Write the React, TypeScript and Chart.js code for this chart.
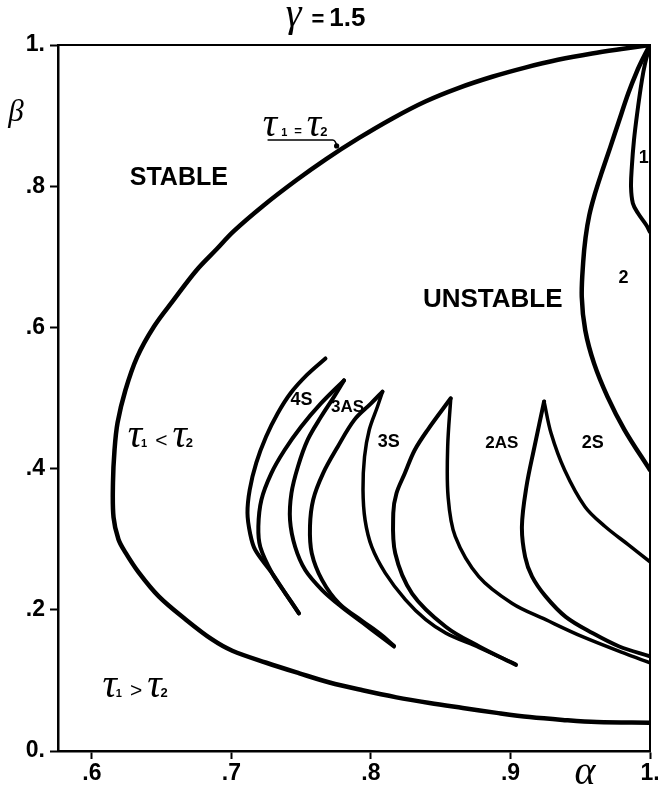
import React, { useEffect, useRef } from 'react';
import { Chart, registerables } from 'chart.js';

Chart.register(...registerables);

// ---- axis ticks ----
const xTicks = [0.6, 0.7, 0.8, 0.9, 1.0];
const xTickLabels = ['.6', '.7', '.8', '.9', '1.'];
const yTicks = [0, 0.2, 0.4, 0.6, 0.8, 1.0];
const yTickLabels = ['0.', '.2', '.4', '.6', '.8', '1.'];
const xMin = 0.5757;
const xMax = 1.0;

// ---- curves (alpha, beta) ----
const boundary = [
  [1.0, 1.0], [0.9821, 0.995], [0.9585, 0.988], [0.934, 0.979], [0.9105, 0.968], [0.8869, 0.955],
  [0.8626, 0.939], [0.839, 0.92], [0.8154, 0.896], [0.7912, 0.868], [0.7676, 0.838], [0.7462, 0.808],
  [0.7226, 0.772], [0.7015, 0.736], [0.6895, 0.711], [0.675, 0.681], [0.6586, 0.639], [0.6444, 0.601],
  [0.6324, 0.558], [0.624, 0.511], [0.6184, 0.465], [0.6162, 0.426], [0.6151, 0.38], [0.6155, 0.331],
  [0.619, 0.3], [0.6241, 0.281], [0.6335, 0.253], [0.6479, 0.219], [0.6674, 0.186], [0.6861, 0.158],
  [0.7006, 0.142], [0.725, 0.125], [0.7487, 0.11], [0.7703, 0.097], [0.794, 0.086], [0.8183, 0.076],
  [0.842, 0.068], [0.8658, 0.061], [0.8901, 0.054], [0.9138, 0.048], [0.9374, 0.044], [0.9619, 0.041],
  [1.0, 0.04],
];
const loop1 = [
  [1.0, 1.0], [0.9965, 0.974], [0.9942, 0.95], [0.9908, 0.903], [0.9885, 0.865], [0.987, 0.828],
  [0.9864, 0.799], [0.9877, 0.776], [0.9913, 0.762], [0.9973, 0.745], [1.0, 0.735],
];
const curve2 = [
  [1.0, 1.0], [0.9955, 0.983], [0.9905, 0.962], [0.9845, 0.932], [0.9777, 0.892], [0.9715, 0.855],
  [0.9655, 0.82], [0.9605, 0.789], [0.9565, 0.759], [0.9538, 0.727], [0.9521, 0.692], [0.9511, 0.643],
  [0.9536, 0.596], [0.9599, 0.549], [0.9695, 0.502], [0.9817, 0.455], [1.0, 0.398],
];
const s2Right = [
  [0.9241, 0.495], [0.9291, 0.45], [0.9388, 0.398], [0.9534, 0.346], [0.9678, 0.318], [0.9846, 0.292],
  [1.0, 0.268],
];
const s2Left = [
  [0.9241, 0.495], [0.9172, 0.431], [0.9114, 0.374], [0.9082, 0.318], [0.9105, 0.275], [0.9155, 0.247],
  [0.9252, 0.219], [0.9396, 0.19], [0.9588, 0.167], [0.978, 0.148], [1.0, 0.134],
];
const as2Right = [
  [0.8572, 0.4996], [0.855, 0.431], [0.8553, 0.36], [0.8604, 0.304], [0.8773, 0.247], [0.9013, 0.209],
  [0.9253, 0.186], [0.9516, 0.162], [0.9875, 0.134], [1.0, 0.125],
];
const as2Left = [
  [0.8572, 0.4996], [0.8407, 0.455], [0.8313, 0.426], [0.8242, 0.393], [0.8183, 0.365], [0.816, 0.337],
  [0.8174, 0.28], [0.8295, 0.223], [0.8536, 0.176], [0.8776, 0.148], [0.904, 0.122],
];
const s3Right = [
  [0.8083, 0.509], [0.8047, 0.488], [0.7988, 0.455], [0.7954, 0.417], [0.7943, 0.37], [0.7958, 0.327],
  [0.8006, 0.289], [0.8103, 0.252], [0.8248, 0.214], [0.8393, 0.186], [0.8537, 0.167], [0.8776, 0.1465],
  [0.9035, 0.123],
];
const s3Left = [
  [0.8083, 0.509], [0.7999, 0.492], [0.7881, 0.469], [0.7762, 0.431], [0.7656, 0.393], [0.7586, 0.356],
  [0.7563, 0.318], [0.7576, 0.28], [0.765, 0.242], [0.7771, 0.209], [0.7938, 0.184], [0.8065, 0.166],
  [0.8165, 0.149],
];
const as3Right = [
  [0.7807, 0.525], [0.7736, 0.502], [0.7641, 0.473], [0.7547, 0.441], [0.7477, 0.403], [0.743, 0.365],
  [0.742, 0.327], [0.7457, 0.289], [0.753, 0.256], [0.765, 0.228], [0.779, 0.204], [0.7945, 0.181],
  [0.8065, 0.163], [0.8165, 0.148],
];
const as3Left = [
  [0.7807, 0.525], [0.764, 0.492], [0.7498, 0.459], [0.738, 0.426], [0.7285, 0.393], [0.7215, 0.356],
  [0.7193, 0.318], [0.7207, 0.289], [0.7291, 0.252], [0.7388, 0.223], [0.7484, 0.195],
];
const s4 = [
  [0.7674, 0.556], [0.7543, 0.533], [0.7425, 0.507], [0.7331, 0.478], [0.7248, 0.445], [0.7178, 0.408],
  [0.7131, 0.37], [0.7115, 0.337], [0.7134, 0.308], [0.717, 0.285], [0.7291, 0.252], [0.7388, 0.223],
  [0.7484, 0.195],
];

// ---- text labels (data coordinates: centre x, baseline y) ----
const regionLabels = [
  { text: 'STABLE', x: 0.6623, y: 0.8017 },
  { text: 'UNSTABLE', x: 0.8873, y: 0.6289 },
];
const branchLabels = [
  { text: '1', x: 0.9956, y: 0.8329 },
  { text: '2', x: 0.9811, y: 0.6629 },
  { text: '2S', x: 0.959, y: 0.4292 },
  { text: '2AS', x: 0.8938, y: 0.4292 },
  { text: '3S', x: 0.8128, y: 0.4306 },
  { text: '3AS', x: 0.7832, y: 0.4802 },
  { text: '4S', x: 0.7502, y: 0.4901 },
];
// tau relations (left x, baseline y)
const tauLabels = [
  { rel: '=', x: 0.7225, y: 0.871 },
  { rel: '<', x: 0.6257, y: 0.4306 },
  { rel: '>', x: 0.6076, y: 0.0765 },
];
const leaderStart = [0.7725, 0.8654];
const leaderEnd = [0.7754, 0.857];
const underlineFrom = 0.7259;

const SANS = '"Liberation Sans", Arial, sans-serif';
const SERIF = '"Liberation Serif", "DejaVu Serif", serif';

type Run = { t: string; font: string; dy?: number; gap?: number };

function runsWidth(ctx: CanvasRenderingContext2D, runs: Run[]) {
  let w = 0;
  for (const r of runs) {
    ctx.font = r.font;
    w += ctx.measureText(r.t).width + (r.gap || 0);
  }
  return w;
}

function drawRuns(ctx: CanvasRenderingContext2D, runs: Run[], left: number, base: number) {
  let x = left;
  ctx.textAlign = 'left';
  ctx.textBaseline = 'alphabetic';
  for (const r of runs) {
    ctx.font = r.font;
    ctx.fillText(r.t, x, base + (r.dy || 0));
    x += ctx.measureText(r.t).width + (r.gap || 0);
  }
  return x;
}

const TAU_FONT = `italic 40px ${SERIF}`;

function tauRuns(rel: string): Run[] {
  if (rel === '=') {
    return [
      { t: 'τ', font: TAU_FONT, gap: 4 },
      { t: '1', font: `bold 11px ${SANS}`, gap: 7 },
      { t: '=', font: `bold 13px ${SANS}`, dy: -1, gap: 5 },
      { t: 'τ', font: TAU_FONT, gap: -1 },
      { t: '2', font: `bold 13px ${SANS}` },
    ];
  }
  return [
    { t: 'τ', font: TAU_FONT, gap: -1 },
    { t: '1', font: `bold 11px ${SANS}`, gap: 8 },
    { t: rel, font: `21px ${SANS}`, gap: 5 },
    { t: 'τ', font: TAU_FONT, gap: -1 },
    { t: '2', font: `bold 13px ${SANS}` },
  ];
}

const textPlugin = {
  id: 'phaseTexts',
  afterDatasetsDraw(chart: any) {
    const { ctx, chartArea, scales } = chart;
    const xs = scales.x;
    const ys = scales.y;
    const px = (v: number) => xs.getPixelForValue(v);
    const py = (v: number) => ys.getPixelForValue(v);
    ctx.save();
    ctx.fillStyle = '#000';
    ctx.strokeStyle = '#000';

    ctx.textAlign = 'center';
    ctx.textBaseline = 'alphabetic';
    for (const l of regionLabels) {
      ctx.font = `bold ${l.text === 'STABLE' ? 25 : 26}px ${SANS}`;
      ctx.fillText(l.text, px(l.x), py(l.y));
    }
    for (const l of branchLabels) {
      ctx.font = `bold ${l.text.length > 2 ? 17 : 18}px ${SANS}`;
      ctx.fillText(l.text, px(l.x), py(l.y));
    }

    for (const t of tauLabels) {
      drawRuns(ctx, tauRuns(t.rel), px(t.x), py(t.y));
    }

    // underline + leader of tau1 = tau2
    const ux0 = px(underlineFrom);
    const ux1 = px(leaderStart[0]);
    const uy = py(leaderStart[1]);
    ctx.lineWidth = 1.6;
    ctx.beginPath();
    ctx.moveTo(ux0, uy);
    ctx.lineTo(ux1, uy);
    ctx.quadraticCurveTo(ux1 + 3, uy, px(leaderEnd[0]), py(leaderEnd[1]));
    ctx.stroke();
    ctx.beginPath();
    ctx.arc(px(leaderEnd[0]), py(leaderEnd[1]), 2.6, 0, Math.PI * 2);
    ctx.fill();

    // axis symbols and title
    ctx.textAlign = 'center';
    ctx.font = `italic 31px ${SERIF}`;
    ctx.fillText('β', chartArea.left - 42, py(0.892));
    ctx.font = `italic 40px ${SERIF}`;
    ctx.fillText('α', px(0.9534), chartArea.bottom + 33);

    const title: Run[] = [
      { t: 'γ', font: `italic 40px ${SERIF}`, gap: 10 },
      { t: '=', font: `bold 22px ${SANS}`, gap: 5 },
      { t: '1.5', font: `bold 26px ${SANS}` },
    ];
    const tw = runsWidth(ctx, title);
    drawRuns(ctx, title, px(0.7675) - tw / 2, chartArea.top - 19);
    ctx.restore();
  },
};

const pts = (a: number[][]) => a.map(([x, y]) => ({ x, y }));

export default function App() {
  const ref = useRef<HTMLCanvasElement>(null);
  useEffect(() => {
    const canvas = ref.current;
    if (!canvas) return;
    const line = (d: number[][], w: number) => ({
      data: pts(d),
      showLine: true,
      borderColor: '#000',
      backgroundColor: '#000',
      borderWidth: w,
      pointRadius: 0,
      pointHoverRadius: 0,
      tension: 0.35,
      fill: false,
      borderCapStyle: 'round',
      borderJoinStyle: 'round',
    });
    const tickFont = { family: SANS, weight: 'bold', size: 23 };
    const chart = new Chart(canvas, {
      type: 'scatter',
      data: {
        datasets: [
          line(boundary, 4.5),
          line(loop1, 4),
          line(curve2, 4.5),
          line(s2Right, 3.5),
          line(s2Left, 4),
          line(as2Right, 3.5),
          line(as2Left, 4),
          line(s3Right, 3.5),
          line(s3Left, 4),
          line(as3Right, 4),
          line(as3Left, 4),
          line(s4, 4),
        ] as any,
      },
      options: {
        responsive: false,
        animation: false,
        devicePixelRatio: 1,
        events: [],
        layout: { padding: { left: 0, right: 8, top: 45, bottom: 0 } },
        plugins: { legend: { display: false }, tooltip: { enabled: false }, title: { display: false } },
        scales: {
          x: {
            type: 'linear',
            position: 'bottom',
            min: xMin,
            max: xMax,
            afterBuildTicks: (s: any) => { s.ticks = xTicks.map((v) => ({ value: v })); },
            afterFit: (s: any) => { s.height = 38; s.paddingLeft = 0; s.paddingRight = 0; },
            ticks: {
              autoSkip: false,
              maxRotation: 0,
              padding: 1,
              color: '#000',
              font: tickFont,
              callback: (v: any) => xTickLabels[xTicks.indexOf(v)] ?? '',
            },
            grid: { display: true, drawOnChartArea: false, drawTicks: true, tickLength: 8, tickWidth: 2, tickColor: '#000' },
            border: { display: true, color: '#000', width: 2.5 },
          },
          y: {
            type: 'linear',
            position: 'left',
            min: 0,
            max: 1,
            afterBuildTicks: (s: any) => { s.ticks = yTicks.map((v) => ({ value: v })); },
            afterFit: (s: any) => { s.width = 58; s.paddingTop = 0; s.paddingBottom = 0; },
            ticks: {
              autoSkip: false,
              padding: 5,
              color: '#000',
              font: tickFont,
              callback: (v: any) => yTickLabels[yTicks.indexOf(v)] ?? '',
            },
            grid: { display: true, drawOnChartArea: false, drawTicks: true, tickLength: 8, tickWidth: 2, tickColor: '#000' },
            border: { display: true, color: '#000', width: 2.5 },
          },
          x2: {
            type: 'linear',
            position: 'top',
            min: xMin,
            max: xMax,
            ticks: { display: false },
            grid: { display: false, drawTicks: false },
            border: { display: true, color: '#000', width: 2 },
            afterFit: (s: any) => { s.height = 0; s.paddingLeft = 0; s.paddingRight = 0; },
          },
          y2: {
            type: 'linear',
            position: 'right',
            min: 0,
            max: 1,
            ticks: { display: false },
            grid: { display: false, drawTicks: false },
            border: { display: true, color: '#000', width: 2 },
            afterFit: (s: any) => { s.width = 0; s.paddingTop = 0; s.paddingBottom = 0; },
          },
        },
      } as any,
      plugins: [textPlugin],
    });
    return () => chart.destroy();
  }, []);

  return (
    <div style={{ position: 'absolute', left: 0, top: 0, width: 658, height: 789, background: '#fff' }}>
      <canvas ref={ref} width={658} height={789} style={{ display: 'block' }} />
    </div>
  );
}
